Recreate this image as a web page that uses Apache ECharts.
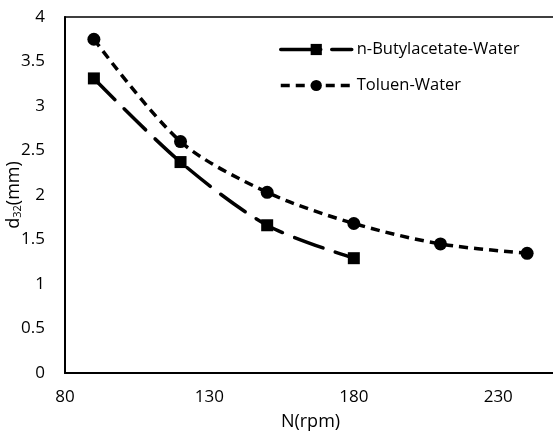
<!DOCTYPE html>
<html><head><meta charset="utf-8">
<script src="https://cdn.jsdelivr.net/npm/echarts@6/dist/echarts.min.js"></script>
<style>html,body{margin:0;padding:0;background:#fff}#c{width:553px;height:434px}</style>
</head><body><div id="c"></div>
<script>
const seriesNames = ['n-Butylacetate-Water', 'Toluen-Water'];
const butylN = [90, 120, 150, 180];
const butylD = [3.31, 2.37, 1.66, 1.29];
const toluenN = [90, 120, 150, 180, 210, 240];
const toluenD = [3.75, 2.60, 2.03, 1.68, 1.45, 1.345];
const xTicks = [80, 130, 180, 230];
const yTicks = [0, 0.5, 1, 1.5, 2, 2.5, 3, 3.5, 4];

const font = 'Open Sans';
const butylDash = [30, 13];
const toluenDash = [9, 6];
const chart = echarts.init(document.getElementById('c'), null, {renderer: 'canvas'});
chart.setOption({
  animation: false,
  textStyle: {fontFamily: font, color: '#000'},
  grid: {left: 65, right: -3, top: 17, bottom: 61, outerBoundsMode: 'none', containLabel: false,
    show: true, borderColor: '#000', borderWidth: 1.5},
  legend: {
    orient: 'vertical', left: 274, top: 36, itemWidth: 71, itemHeight: 14, itemGap: 19,
    textStyle: {fontFamily: font, fontSize: 16.5, color: '#000'},
    data: [
      {name: seriesNames[0], lineStyle: {width: 3.5, type: [40, 11], color: '#000'}},
      {name: seriesNames[1], lineStyle: {width: 3.5, type: toluenDash, color: '#000'}}
    ]
  },
  xAxis: {
    type: 'value', min: 80, max: 250,
    name: 'N(rpm)', nameLocation: 'middle', nameGap: 40, nameMoveOverlap: false,
    nameTextStyle: {fontFamily: font, fontSize: 18, color: '#000'},
    axisLine: {show: true, onZero: false, lineStyle: {color: '#000', width: 2}},
    axisTick: {show: false},
    splitLine: {show: false},
    axisLabel: {customValues: xTicks, fontSize: 17, color: '#000', margin: 16, fontFamily: font}
  },
  yAxis: {
    type: 'value', min: 0, max: 4, interval: 0.5,
    name: '{a|d}{b|32}{a|(mm)}', nameLocation: 'middle', nameGap: 42, nameMoveOverlap: false,
    nameTextStyle: {
      padding: [0, 0, 0, 0],
      rich: {
        a: {fontFamily: font, fontSize: 18, color: '#000'},
        b: {fontFamily: font, fontSize: 11, color: '#000', padding: [8, 0, 0, 0]}
      }
    },
    axisLine: {show: true, lineStyle: {color: '#000', width: 2}},
    axisTick: {show: false},
    splitLine: {show: false},
    axisLabel: {fontSize: 17, color: '#000', margin: 20, fontFamily: font,
      formatter: v => yTicks.includes(v) ? String(v) : ''}
  },
  series: [
    {
      name: seriesNames[0], type: 'line',
      data: butylN.map((n, i) => [n, butylD[i]]),
      smooth: 0.3,
      symbol: 'rect', symbolSize: 12,
      lineStyle: {color: '#000', width: 3.5, type: butylDash, cap: 'round'},
      itemStyle: {color: '#000'}
    },
    {
      name: seriesNames[1], type: 'line',
      data: toluenN.map((n, i) => [n, toluenD[i]]),
      smooth: 0.3,
      symbol: 'circle', symbolSize: 13,
      lineStyle: {color: '#000', width: 3.5, type: toluenDash},
      itemStyle: {color: '#000'}
    }
  ]
});
</script></body></html>
